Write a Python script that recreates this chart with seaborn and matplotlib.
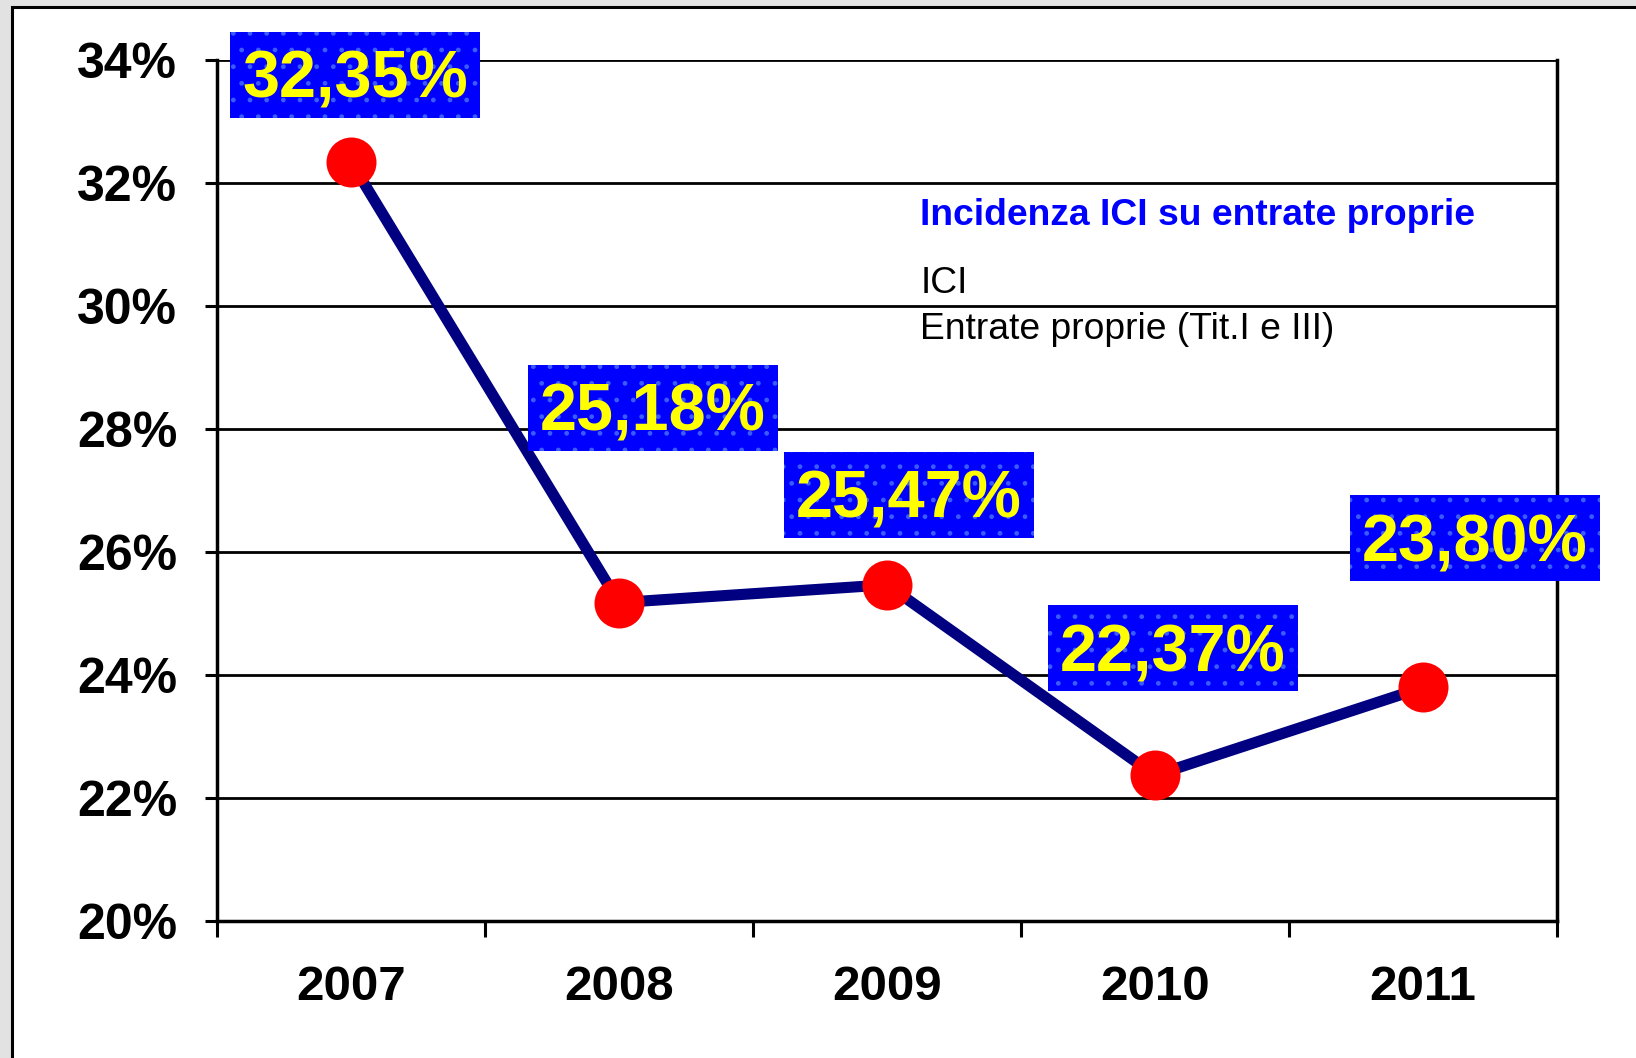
import matplotlib
matplotlib.use("Agg")
import matplotlib.pyplot as plt
import seaborn as sns
import pandas as pd
from matplotlib.patches import Rectangle
from matplotlib.path import Path
from matplotlib.ticker import FixedLocator, PercentFormatter

years = ["2007", "2008", "2009", "2010", "2011"]
values = [32.35, 25.18, 25.47, 22.37, 23.80]
labels = ["32,35%", "25,18%", "25,47%", "22,37%", "23,80%"]
yticks = [20, 22, 24, 26, 28, 30, 32, 34]
legend_title = "Incidenza ICI su entrate proprie"
legend_line1 = "ICI"
legend_line2 = "Entrate proprie (Tit.I e III)"

sns.set_style("white")
plt.rcParams["font.family"] = ["Liberation Sans", "DejaVu Sans"]
plt.rcParams["text.color"] = "black"
plt.rcParams["xtick.color"] = "black"
plt.rcParams["ytick.color"] = "black"

df = pd.DataFrame({"pos": range(len(years)), "value": values})

fig = plt.figure(figsize=(16.36, 10.58), dpi=100)
fig.patch.set_facecolor("#e2e2e2")
# white panel with black frame
frame = Rectangle((12 / 1636, -0.05), 1.2, 1 - 7 / 1058 + 0.05,
                  transform=fig.transFigure, facecolor="white",
                  edgecolor="black", linewidth=2.2, zorder=-10)
fig.patches.append(frame)

ax = fig.add_axes([217 / 1636, 1 - 921 / 1058, (1557 - 217) / 1636, (921 - 60.5) / 1058])
ax.set_facecolor("none")
ax.set_zorder(1)

sns.lineplot(data=df, x="pos", y="value", ax=ax, color="#000080", linewidth=8,
             marker="o", markersize=36, markerfacecolor="#ff0000",
             markeredgewidth=0, zorder=3)

ax.set_xlim(-0.5, len(years) - 0.5)
ax.set_ylim(20, 34)
ax.set_xlabel("")
ax.set_ylabel("")

ax.yaxis.set_major_locator(FixedLocator(yticks))
ax.yaxis.set_major_formatter(PercentFormatter(decimals=0))
ax.grid(axis="y", color="black", linewidth=2)
ax.grid(axis="x", visible=False)

ax.xaxis.set_major_locator(FixedLocator([i - 0.5 for i in range(len(years) + 1)]))
ax.set_xticklabels([""] * (len(years) + 1))
ax.xaxis.set_minor_locator(FixedLocator(list(range(len(years)))))
ax.set_xticklabels(years, minor=True)

ax.tick_params(axis="x", which="major", direction="out", length=11.5, width=2.2,
               color="black", bottom=True)
ax.tick_params(axis="x", which="minor", length=0, pad=32, labelsize=35.5,
               labelcolor="black")
ax.tick_params(axis="y", direction="out", length=8.6, width=2.2, color="black",
               pad=20, labelsize=36, left=True, labelcolor="black")
for lab in ax.get_xticklabels(minor=True) + ax.get_yticklabels():
    lab.set_fontweight("bold")

for side in ["left", "bottom", "right"]:
    ax.spines[side].set_visible(True)
    ax.spines[side].set_color("black")
    ax.spines[side].set_linewidth(2.5)
ax.spines["top"].set_visible(False)


def label_box(x0, y0, width, height, mutation_size):
    pad = 0.18 * mutation_size
    shift = 0.09 * mutation_size
    xa, xb = x0 - pad, x0 + width + pad
    ya, yb = y0 - pad + shift, y0 + height + pad + shift
    return Path([(xa, ya), (xb, ya), (xb, yb), (xa, yb), (xa, ya)], closed=True)


offsets = [(4, 81), (34, 189), (22, 84), (18, 121), (52, 143)]
for i, (v, lab) in enumerate(zip(values, labels)):
    dx, dy = offsets[i]
    ax.annotate(lab, xy=(i, v), xytext=(dx, dy), textcoords="offset pixels",
                ha="center", va="center", fontsize=48, fontweight="bold",
                color="#ffff00", zorder=5,
                bbox=dict(boxstyle=label_box, facecolor="#0000ff",
                          edgecolor="#3a5cff", linewidth=0, hatch="."))

ax.text(0.525, 0.820, legend_title, transform=ax.transAxes, ha="left", va="center",
        fontsize=26.8, fontweight="bold", color="#0000ff")
ax.text(0.525, 0.741, legend_line1, transform=ax.transAxes, ha="left", va="center",
        fontsize=26.8, color="black")
ax.text(0.525, 0.687, legend_line2, transform=ax.transAxes, ha="left", va="center",
        fontsize=26.8, color="black")

fig.savefig("out.png", dpi=100, facecolor=fig.get_facecolor())
